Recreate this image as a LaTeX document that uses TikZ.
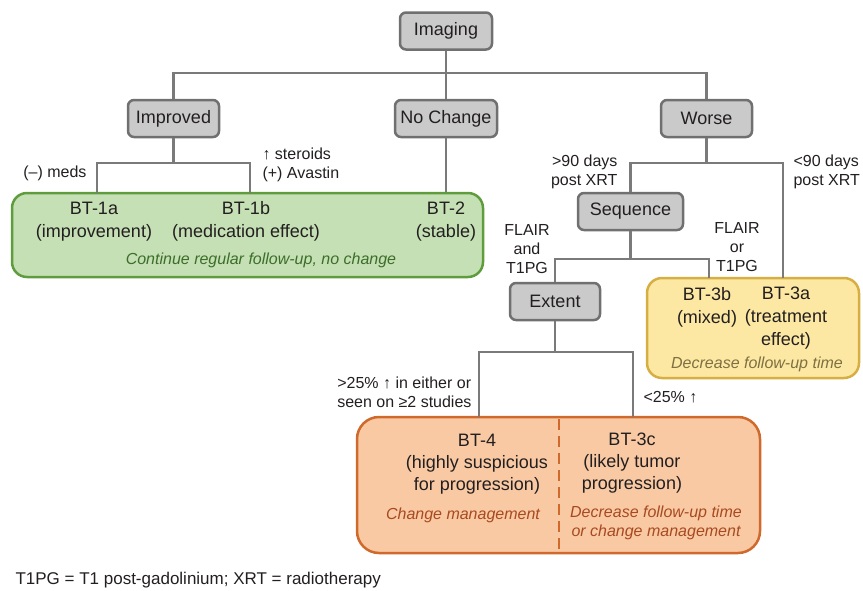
\documentclass[tikz,border=0pt]{standalone}
\usepackage{fontspec}
\setmainfont{Liberation Sans}
\usetikzlibrary{shapes}
\definecolor{boxfill}{RGB}{202,202,202}
\definecolor{boxline}{RGB}{112,112,112}
\definecolor{linegray}{RGB}{122,122,122}
\definecolor{greenfill}{RGB}{197,224,180}
\definecolor{greenline}{RGB}{94,156,62}
\definecolor{greentext}{RGB}{60,110,42}
\definecolor{yellowfill}{RGB}{252,232,162}
\definecolor{yellowline}{RGB}{215,174,66}
\definecolor{yellowtext}{RGB}{125,112,66}
\definecolor{orangefill}{RGB}{249,201,164}
\definecolor{orangeline}{RGB}{208,105,44}
\definecolor{orangetext}{RGB}{168,74,32}
\definecolor{inktext}{RGB}{35,31,32}
\newcommand{\mainsize}{\fontsize{18}{23}\selectfont}
\newcommand{\lblsize}{\fontsize{16}{19}\selectfont}
\tikzstyle{qbox}=[rectangle, rounded corners=6pt, draw=boxline, fill=boxfill, line width=2.5pt, minimum height=37pt, font=\mainsize, text=inktext]
\tikzstyle{outcomebox}=[rectangle, line width=2.5pt, inner sep=0pt]
\tikzstyle{link}=[draw=linegray, line width=2.7pt]
\tikzstyle{outcome}=[font=\mainsize, align=center, text=inktext]
\tikzstyle{advice}=[font=\lblsize\itshape, align=center]
\tikzstyle{lbl}=[font=\lblsize, text=inktext]

\begin{document}
\begin{tikzpicture}[x=1pt, y=-1pt]

    \useasboundingbox (0,0) rectangle (863,590);

    % outcome boxes
    \node[outcomebox, draw=greenline, fill=greenfill, rounded corners=15pt, minimum width=471pt, minimum height=84pt] (green) at (247.5,235) {};
    \node[outcomebox, draw=yellowline, fill=yellowfill, rounded corners=15pt, minimum width=212pt, minimum height=100pt] (yellow) at (753,328) {};
    \node[outcomebox, draw=orangeline, fill=orangefill, rounded corners=22pt, minimum width=403pt, minimum height=136pt] (orange) at (558.5,485) {};
    \draw[orangeline, line width=2.5pt, dash pattern=on 11pt off 6pt] (559,419) -- (559,551);

    % question boxes
    \foreach \x/\y/\w/\name/\txt in {446/31/92/imaging/Imaging, 173.5/118.5/91/improved/Improved, 446/118.5/102/nochange/No Change, 706.5/118.5/91/worse/Worse, 630.5/211.5/105/sequence/Sequence, 555/301.5/90/extent/Extent}
        \node[qbox, minimum width=\w pt] (\name) at (\x,\y) {\txt};

    % branch points
    \coordinate (imgbar) at (446,73);
    \coordinate (impbar) at (173.5,163);
    \coordinate (worbar) at (706.5,163);
    \coordinate (seqbar) at (630.5,259);
    \coordinate (extbar) at (555,352);
    \coordinate (d1a) at (97,193);
    \coordinate (d1b) at (250,193);
    \coordinate (d3a) at (783,278);
    \coordinate (d3b) at (709,278);
    \coordinate (d4) at (479,417);
    \coordinate (d3c) at (633,417);

    \draw[link] (imaging) -- (nochange);
    \draw[link] (improved) |- (imgbar) -| (worse);
    \draw[link] (improved) -- (impbar);
    \draw[link] (d1a) |- (impbar) -| (d1b);
    \draw[link] (nochange) -- (nochange |- green.north);
    \draw[link] (worse) -- (worbar);
    \draw[link] (sequence) |- (worbar) -| (d3a);
    \draw[link] (sequence) -- (seqbar);
    \draw[link] (extent) |- (seqbar) -| (d3b);
    \draw[link] (extent) -- (extbar);
    \draw[link] (d4) |- (extbar) -| (d3c);

    % green box text
    \node[outcome] (bt1a) at (94,221.5) {BT-1a\\(improvement)};
    \node[outcome] (bt1b) at (246,221.5) {BT-1b\\(medication effect)};
    \node[outcome] (bt2) at (446,221.5) {BT-2\\(stable)};
    \node[advice, text=greentext] (greenadv) at (261,260) {Continue regular follow-up, no change};

    % yellow box text
    \node[outcome] (bt3b) at (707,307.5) {BT-3b\\(mixed)};
    \node[outcome] (bt3a) at (786,318) {BT-3a\\(treatment\\effect)};
    \node[advice, text=yellowtext] (yellowadv) at (757,364) {Decrease follow-up time};

    % orange box text
    \node[outcome, font=\fontsize{18}{22}\selectfont] (bt4) at (477,464) {BT-4\\(highly suspicious\\for progression)};
    \node[advice, text=orangetext] (bt4adv) at (463,515) {Change management};
    \node[outcome, font=\fontsize{18}{22}\selectfont] (bt3c) at (632,463.5) {BT-3c\\(likely tumor\\progression)};
    \node[advice, text=orangetext, font=\fontsize{16}{19}\selectfont\itshape] (bt3cadv) at (656,522.5) {Decrease follow-up time\\or change management};

    % branch labels
    \node[lbl, anchor=east] (meds) at (90,173) {(–) meds};
    \node[lbl, anchor=west, align=left] (steroids) at (259,164.5) {↑ steroids\\(+) Avastin};
    \node[lbl, anchor=east, align=right] (late) at (621,172) {>90 days\\post XRT};
    \node[lbl, anchor=west, align=left] (early) at (790,172) {<90 days\\post XRT};
    \node[lbl, align=center] (both) at (527,249) {FLAIR\\and\\T1PG};
    \node[lbl, align=center] (either) at (737,247) {FLAIR\\or\\T1PG};
    \node[lbl, anchor=east, align=left] (big) at (475,392.5) {>25\% ↑ in either or\\seen on ≥2 studies};
    \node[lbl, anchor=west] (small) at (640,397) {<25\% ↑};

    \node[anchor=west, font=\fontsize{17}{20}\selectfont, text=inktext] (legend) at (12,580) {T1PG = T1 post-gadolinium; XRT = radiotherapy};

\end{tikzpicture}
\end{document}
